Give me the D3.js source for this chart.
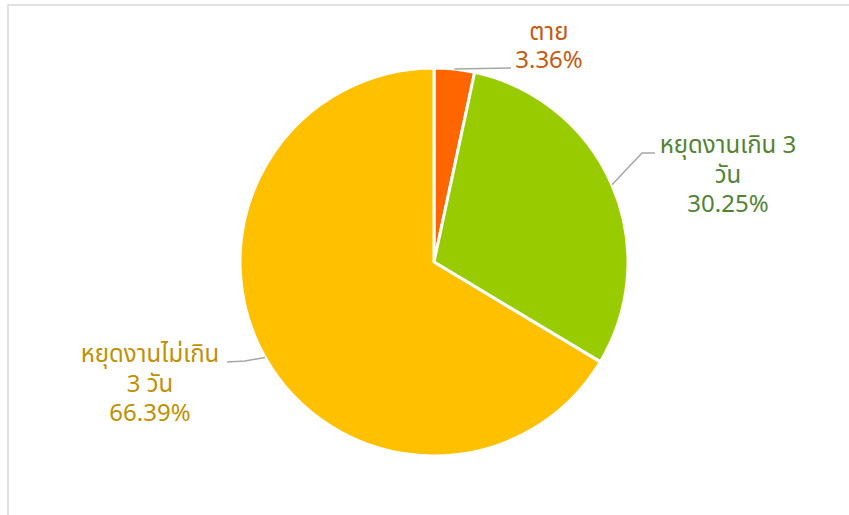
<!DOCTYPE html>
<html>
<head>
<meta charset="utf-8">
<script src="https://cdn.jsdelivr.net/npm/d3@7"></script>
<style>
  html, body { margin: 0; padding: 0; background: #fff; }
  svg { display: block; }
  text { font-family: "Noto Sans", "Noto Sans Thai", "DejaVu Sans", sans-serif; }
</style>
</head>
<body>
<svg id="chart" width="849" height="515"></svg>
<script>
// Injury outcome shares (percent)
const categories = ["ตาย", "หยุดงานเกิน 3 วัน", "หยุดงานไม่เกิน 3 วัน"];
const values = [3.36, 30.25, 66.39];
const labelLines = [["ตาย"], ["หยุดงานเกิน 3", "วัน"], ["หยุดงานไม่เกิน", "3 วัน"]];
const sliceColors = ["#FF6600", "#99CC00", "#FFC000"];
const labelColors = ["#C55A11", "#548235", "#BF9000"];

const W = 849, H = 515;
const cx = 434, cy = 262, R = 194;

const svg = d3.select("#chart");

// chart area frame
svg.append("rect")
  .attr("x", 8).attr("y", 5)
  .attr("width", W + 10).attr("height", H + 10)
  .attr("fill", "none").attr("stroke", "#D9D9D9").attr("stroke-width", 1.5);

const pie = d3.pie().sort(null).value(d => d)
  .startAngle(0).endAngle(2 * Math.PI);
const arcs = pie(values);
const arc = d3.arc().innerRadius(0).outerRadius(R);

const g = svg.append("g").attr("transform", `translate(${cx},${cy})`);
g.selectAll("path.slice").data(arcs).enter().append("path")
  .attr("class", "slice")
  .attr("d", arc)
  .attr("fill", (d, i) => sliceColors[i])
  .attr("stroke", "#fff").attr("stroke-width", 3).attr("stroke-linejoin", "round");

// label placement (centre x, first baseline, line step) and leader bends
const labelLayout = [
  { x: 549, y: 40, step: 28, leader: [[511, 68]] },
  { x: 728, y: 153, step: 29.5, leader: [[642, 153], [655, 153]] },
  { x: 150, y: 362, step: 29.5, leader: [[245, 361], [227, 362]] }
];

arcs.forEach((d, i) => {
  const mid = (d.startAngle + d.endAngle) / 2;
  const p0 = [cx + R * Math.sin(mid), cy - R * Math.cos(mid)];
  const pts = [p0].concat(labelLayout[i].leader);
  svg.append("path")
    .attr("d", d3.line()(pts))
    .attr("fill", "none").attr("stroke", "#A6A6A6").attr("stroke-width", 1.5);

  const lay = labelLayout[i];
  const lines = labelLines[i].concat([values[i].toFixed(2) + "%"]);
  const t = svg.append("text")
    .attr("text-anchor", "middle")
    .attr("fill", labelColors[i])
    .attr("font-size", 24);
  lines.forEach((s, k) => {
    t.append("tspan").attr("x", lay.x).attr("y", lay.y + k * lay.step).text(s);
  });
});
</script>
</body>
</html>
